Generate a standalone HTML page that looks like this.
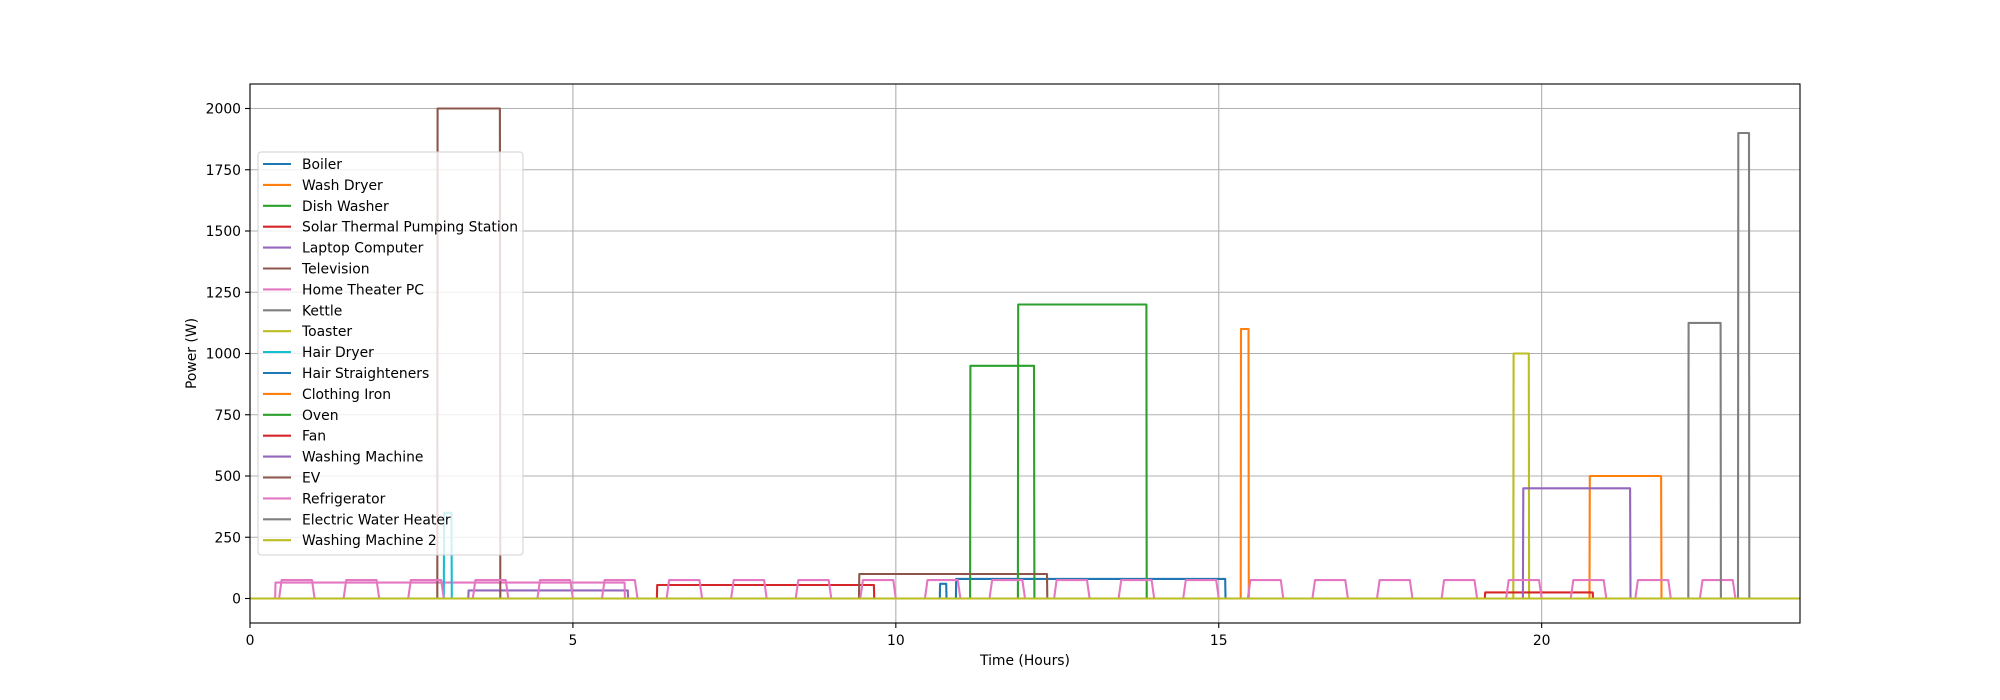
<!DOCTYPE html>
<html><head><meta charset="utf-8"><style>
html,body{margin:0;padding:0;background:#fff;}
svg{display:block;font-family:"DejaVu Sans","Liberation Sans",sans-serif;}
</style></head><body>
<svg id="chart" width="2000" height="700" viewBox="0 0 2000 700" xmlns="http://www.w3.org/2000/svg">
<rect width="2000" height="700" fill="#fff"/>
<g id="grid"></g>
<g id="series"></g>
<g id="axes"></g>
<g id="legend"></g>
</svg>
<script>
const seriesNames=["Boiler","Wash Dryer","Dish Washer","Solar Thermal Pumping Station","Laptop Computer","Television","Home Theater PC","Kettle","Toaster","Hair Dryer","Hair Straighteners","Clothing Iron","Oven","Fan","Washing Machine","EV","Refrigerator","Electric Water Heater","Washing Machine 2"];
const seriesColors=["#1f77b4","#ff7f0e","#2ca02c","#d62728","#9467bd","#8c564b","#e377c2","#7f7f7f","#bcbd22","#17becf","#1f77b4","#ff7f0e","#2ca02c","#d62728","#9467bd","#8c564b","#e377c2","#7f7f7f","#bcbd22"];
const seriesStart=[10.93,20.74,11.15,6.3,3.38,9.43,0.39,23.04,19.56,3.0,10.68,15.34,11.89,19.12,19.71,2.9,null,22.27,null];
const seriesEnd=[15.1,21.85,12.14,9.66,5.85,12.34,5.8,23.21,19.8,3.12,10.78,15.46,13.88,20.79,21.37,3.87,null,22.77,null];
const seriesWatts=[80,500,950,55,33,100,65,1900,1000,350,60,1100,1200,25,450,2000,null,1125,0];
const fridgeStart=[0.45,1.45,2.45,3.45,4.45,5.45,6.45,7.45,8.45,9.45,10.45,11.45,12.45,13.45,14.45,15.45,16.45,17.45,18.45,19.45,20.45,21.45,22.45];
const fridgeEnd=[0.98,1.98,2.98,3.98,4.98,5.98,6.98,7.98,8.98,9.98,10.98,11.98,12.98,13.98,14.98,15.98,16.98,17.98,18.98,19.98,20.98,21.98,22.98];
const fridgeWatts=75;
const xTicks=[0,5,10,15,20];
const yTicks=[0,250,500,750,1000,1250,1500,1750,2000];

const L=250,R=1800,T=84,B=623,XMIN=0,XMAX=24,YMIN=-100,YMAX=2100;
const X=h=>L+(h-XMIN)/(XMAX-XMIN)*(R-L);
const Y=w=>B-(w-YMIN)/(YMAX-YMIN)*(B-T);
const NS="http://www.w3.org/2000/svg";
function mk(tag,attrs,parent){const e=document.createElementNS(NS,tag);for(const k in attrs)e.setAttribute(k,attrs[k]);parent.appendChild(e);return e;}
const grid=document.getElementById('grid'),ser=document.getElementById('series'),ax=document.getElementById('axes'),lg=document.getElementById('legend');

xTicks.forEach(t=>{const l=mk('line',{x1:X(t),x2:X(t),y1:T,y2:B,stroke:'#b0b0b0','stroke-width':1.1},grid);

});
yTicks.forEach(t=>{const l=mk('line',{x1:L,x2:R,y1:Y(t),y2:Y(t),stroke:'#b0b0b0','stroke-width':1.1},grid);

});

seriesNames.forEach((n,i)=>{
  let pts=[];
  if(n==="Refrigerator"){
    pts.push([0,0]);
    fridgeStart.forEach((s,k)=>{const e=fridgeEnd[k];pts.push([s,0],[s+0.04,fridgeWatts],[e-0.02,fridgeWatts],[e+0.02,0]);});
    pts.push([24,0]);
  } else if(seriesStart[i]===null){
    pts=[[0,seriesWatts[i]||0],[24,seriesWatts[i]||0]];
  } else {
    const s=seriesStart[i],e=seriesEnd[i],w=seriesWatts[i];
    pts=[[0,0],[s,0],[s+0.005,w],[e,w],[e+0.005,0],[24,0]];
  }
  const p=mk('polyline',{points:pts.map(q=>X(q[0]).toFixed(1)+','+Y(q[1]).toFixed(1)).join(' '),fill:'none',stroke:seriesColors[i],'stroke-width':2.1,'stroke-linejoin':'round'},ser);
  
  
});

const frame=mk('rect',{x:L,y:T,width:R-L,height:B-T,fill:'none',stroke:'#000','stroke-width':1.1},ax);


xTicks.forEach(t=>{mk('line',{x1:X(t),x2:X(t),y1:B,y2:B+5,stroke:'#000','stroke-width':1.1},ax);
const tx=mk('text',{x:X(t),y:B+22,'font-size':13.9,'text-anchor':'middle',fill:'#000'},ax);tx.textContent=t;

});
yTicks.forEach(t=>{mk('line',{x1:L-5,x2:L,y1:Y(t),y2:Y(t),stroke:'#000','stroke-width':1.1},ax);
const tx=mk('text',{x:L-9,y:Y(t)+5,'font-size':13.9,'text-anchor':'end',fill:'#000'},ax);tx.textContent=t;

});
const xl=mk('text',{x:(L+R)/2,y:665,'font-size':13.9,'text-anchor':'middle'},ax);xl.textContent='Time (Hours)';


const yl=mk('text',{x:196,y:(T+B)/2,'font-size':13.9,'text-anchor':'middle',transform:'rotate(-90 196 '+((T+B)/2)+')'},ax);yl.textContent='Power (W)';



const box=mk('rect',{x:258,y:152,width:265,height:403,rx:3,fill:'#fff','fill-opacity':0.8,stroke:'#d0d0d0','stroke-width':1},lg);


seriesNames.forEach((n,i)=>{
  const y=164+i*20.9;
  const g=mk('g',{},lg);
  
  
  mk('line',{x1:263,x2:291,y1:y,y2:y,stroke:seriesColors[i],'stroke-width':2.1},g);
  const t=mk('text',{x:302,y:y+5,'font-size':13.9,fill:'#000'},g);t.textContent=n;
});
</script>
</body></html>
